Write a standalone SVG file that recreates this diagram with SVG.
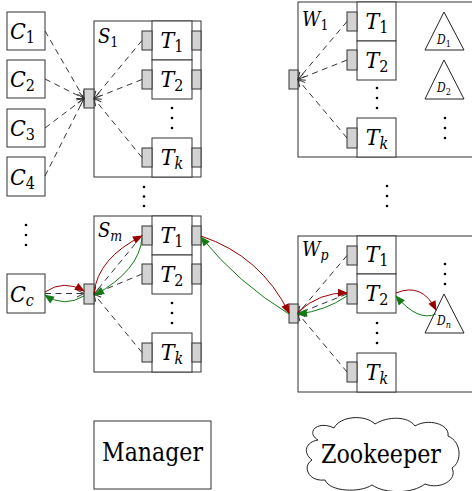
<svg xmlns="http://www.w3.org/2000/svg" width="472" height="491" viewBox="0 0 472 491">
<style>
.box{fill:#fff;stroke:#333;stroke-width:1}
.port{fill:#d3d3d3;stroke:#333;stroke-width:1}
text{font-family:'DejaVu Serif Condensed','DejaVu Serif',serif;fill:#000}
.t{font-style:italic;font-size:23px}
.s{font-style:italic;font-size:20px}
.d{font-style:italic;font-size:12px}
.n{font-style:normal}
.big{font-size:26px}
.dash{fill:none;stroke:#333;stroke-width:1;stroke-dasharray:6 4.5;marker-end:url(#open)}
.red{fill:none;stroke:#9b0000;stroke-width:1;marker-end:url(#ra)}
.grn{fill:none;stroke:#157a15;stroke-width:1;marker-end:url(#ga)}
.dot{fill:#000}
</style>
<defs>
<marker id="open" markerUnits="userSpaceOnUse" markerWidth="8" markerHeight="8" refX="7" refY="3.5" orient="auto" overflow="visible">
<path d="M0,0 L7,3.5 L0,7" fill="none" stroke="#333" stroke-width="1" stroke-dasharray="none"/>
</marker>
<marker id="ra" markerUnits="userSpaceOnUse" markerWidth="10" markerHeight="8" refX="9" refY="4" orient="auto" overflow="visible">
<path d="M0,0 L10,4 L0,8 z" fill="#9b0000"/>
</marker>
<marker id="ga" markerUnits="userSpaceOnUse" markerWidth="10" markerHeight="8" refX="9" refY="4" orient="auto" overflow="visible">
<path d="M0,0 L10,4 L0,8 z" fill="#157a15"/>
</marker>
</defs>
<rect width="472" height="491" fill="#fff"/>

<!-- Clients -->
<g id="C1"><rect class="box" x="7" y="12" width="38" height="38"/><text class="t" x="10" y="39">C<tspan class="n" font-size="16" dy="4">1</tspan></text></g>
<g id="C2"><rect class="box" x="7" y="60" width="38" height="38"/><text class="t" x="10" y="87">C<tspan class="n" font-size="16" dy="4">2</tspan></text></g>
<g id="C3"><rect class="box" x="7" y="109" width="38" height="38"/><text class="t" x="10" y="136">C<tspan class="n" font-size="16" dy="4">3</tspan></text></g>
<g id="C4"><rect class="box" x="7" y="157" width="38" height="39"/><text class="t" x="10" y="185">C<tspan class="n" font-size="16" dy="4">4</tspan></text></g>
<g id="Cdots"><circle class="dot" cx="26" cy="225" r="1.3"/><circle class="dot" cx="26" cy="235" r="1.3"/><circle class="dot" cx="26" cy="245" r="1.3"/></g>
<g id="Cc"><rect class="box" x="7" y="274" width="38" height="39"/><text class="t" x="10" y="302">C<tspan font-size="16" dy="4">c</tspan></text></g>

<!-- S1 -->
<g id="S1">
<rect class="box" x="94" y="21" width="107" height="156"/>
<text class="s" x="98" y="43">S<tspan class="n" font-size="14" dy="4">1</tspan></text>
<rect class="port" x="84" y="89" width="10" height="19"/>
<rect class="box" x="152" y="21" width="40" height="39"/>
<rect class="box" x="152" y="60" width="40" height="39"/>
<rect class="box" x="152" y="138" width="40" height="39"/>
<rect class="port" x="142" y="31" width="10" height="19"/><rect class="port" x="192" y="31" width="9" height="19"/>
<rect class="port" x="142" y="70" width="10" height="19"/><rect class="port" x="192" y="70" width="9" height="19"/>
<rect class="port" x="142" y="148" width="10" height="19"/><rect class="port" x="192" y="148" width="9" height="19"/>
<text class="t" x="172" y="48" text-anchor="middle">T<tspan class="n" font-size="16" dy="4">1</tspan></text>
<text class="t" x="172" y="87" text-anchor="middle">T<tspan class="n" font-size="16" dy="4">2</tspan></text>
<text class="t" x="172" y="165" text-anchor="middle">T<tspan font-size="16" dy="4">k</tspan></text>
<circle class="dot" cx="172" cy="108" r="1.3"/><circle class="dot" cx="172" cy="118" r="1.3"/><circle class="dot" cx="172" cy="128" r="1.3"/>
</g>
<g id="Sdots"><circle class="dot" cx="144" cy="187" r="1.3"/><circle class="dot" cx="144" cy="196.5" r="1.3"/><circle class="dot" cx="144" cy="206" r="1.3"/></g>

<!-- Sm -->
<g id="Sm">
<rect class="box" x="94" y="216" width="107" height="156"/>
<text class="s" x="98" y="237">S<tspan font-size="14" dy="4">m</tspan></text>
<rect class="port" x="84" y="284" width="10" height="20"/>
<rect class="box" x="152" y="216" width="40" height="39"/>
<rect class="box" x="152" y="255" width="40" height="39"/>
<rect class="box" x="152" y="333" width="40" height="39"/>
<rect class="port" x="142" y="226" width="10" height="19"/><rect class="port" x="192" y="226" width="9" height="19"/>
<rect class="port" x="142" y="264" width="10" height="20"/><rect class="port" x="192" y="264" width="9" height="20"/>
<rect class="port" x="142" y="343" width="10" height="19"/><rect class="port" x="192" y="343" width="9" height="19"/>
<text class="t" x="172" y="243" text-anchor="middle">T<tspan class="n" font-size="16" dy="4">1</tspan></text>
<text class="t" x="172" y="282" text-anchor="middle">T<tspan class="n" font-size="16" dy="4">2</tspan></text>
<text class="t" x="172" y="360" text-anchor="middle">T<tspan font-size="16" dy="4">k</tspan></text>
<circle class="dot" cx="172" cy="303" r="1.3"/><circle class="dot" cx="172" cy="313" r="1.3"/><circle class="dot" cx="172" cy="323" r="1.3"/>
</g>

<!-- W1 -->
<g id="W1">
<rect class="box" x="298" y="2" width="180" height="155"/>
<text class="s" x="302" y="26">W<tspan class="n" font-size="14" dy="4">1</tspan></text>
<rect class="port" x="289" y="70" width="9" height="19"/>
<rect class="box" x="357" y="2" width="39" height="39"/>
<rect class="box" x="357" y="41" width="39" height="39"/>
<rect class="box" x="357" y="118" width="39" height="39"/>
<rect class="port" x="347" y="12" width="10" height="19"/>
<rect class="port" x="347" y="50" width="10" height="20"/>
<rect class="port" x="347" y="128" width="10" height="20"/>
<text class="t" x="377" y="29" text-anchor="middle">T<tspan class="n" font-size="16" dy="4">1</tspan></text>
<text class="t" x="377" y="68" text-anchor="middle">T<tspan class="n" font-size="16" dy="4">2</tspan></text>
<text class="t" x="377" y="145" text-anchor="middle">T<tspan font-size="16" dy="4">k</tspan></text>
<circle class="dot" cx="377" cy="88" r="1.3"/><circle class="dot" cx="377" cy="98" r="1.3"/><circle class="dot" cx="377" cy="108" r="1.3"/>
<path d="M444,12 L464,50 L425,50 Z" fill="#fff" stroke="#222" stroke-width="1"/>
<text class="d" x="444" y="44" text-anchor="middle">D<tspan class="n" font-size="9" dy="3">1</tspan></text>
<path d="M444,60 L464,99 L425,99 Z" fill="#fff" stroke="#222" stroke-width="1"/>
<text class="d" x="444" y="92" text-anchor="middle">D<tspan class="n" font-size="9" dy="3">2</tspan></text>
<circle class="dot" cx="445" cy="118" r="1.3"/><circle class="dot" cx="445" cy="128" r="1.3"/><circle class="dot" cx="445" cy="138" r="1.3"/>
</g>
<g id="Wdots"><circle class="dot" cx="387" cy="186" r="1.3"/><circle class="dot" cx="387" cy="196" r="1.3"/><circle class="dot" cx="387" cy="206" r="1.3"/></g>

<!-- Wp -->
<g id="Wp">
<rect class="box" x="298" y="236" width="180" height="156"/>
<text class="s" x="302" y="256">W<tspan font-size="14" dy="4">p</tspan></text>
<rect class="port" x="289" y="304" width="9" height="19"/>
<rect class="box" x="357" y="236" width="39" height="38"/>
<rect class="box" x="357" y="274" width="39" height="39"/>
<rect class="box" x="357" y="353" width="39" height="39"/>
<rect class="port" x="347" y="246" width="10" height="19"/>
<rect class="port" x="347" y="284" width="10" height="20"/>
<rect class="port" x="347" y="362" width="10" height="20"/>
<text class="t" x="377" y="262" text-anchor="middle">T<tspan class="n" font-size="16" dy="4">1</tspan></text>
<text class="t" x="377" y="301" text-anchor="middle">T<tspan class="n" font-size="16" dy="4">2</tspan></text>
<text class="t" x="377" y="380" text-anchor="middle">T<tspan font-size="16" dy="4">k</tspan></text>
<circle class="dot" cx="377" cy="323" r="1.3"/><circle class="dot" cx="377" cy="333" r="1.3"/><circle class="dot" cx="377" cy="343" r="1.3"/>
<circle class="dot" cx="445" cy="264" r="1.3"/><circle class="dot" cx="445" cy="274" r="1.3"/><circle class="dot" cx="445" cy="284" r="1.3"/>
<path d="M444,294 L464,333 L425,333 Z" fill="#fff" stroke="#222" stroke-width="1"/>
<text class="d" x="444" y="325" text-anchor="middle">D<tspan font-size="9" dy="3">n</tspan></text>
</g>

<!-- Manager -->
<g id="Manager">
<rect class="box" x="94" y="421" width="117" height="68"/>
<text class="big" x="102" y="461" textLength="101" lengthAdjust="spacingAndGlyphs">Manager</text>
</g>

<!-- Zookeeper -->
<g id="Zookeeper">
<path d="M318,440 C305,432 318,420 334,428 C340,416 365,414 375,424 C388,416 408,416 415,426 C428,418 450,424 448,436 C462,442 462,462 452,468 C458,480 440,490 425,484 C412,494 385,494 372,485 C360,493 330,492 325,480 C308,482 302,466 312,460 C302,452 306,442 318,440 Z" fill="#fff" stroke="#222" stroke-width="1"/>
<text class="big" x="321" y="463" textLength="120" lengthAdjust="spacingAndGlyphs">Zookeeper</text>
</g>

<!-- Connectors -->
<g id="connectors">
<path class="dash" d="M45,31 L84,98.5"/>
<path class="dash" d="M45,79 L84,98.5"/>
<path class="dash" d="M45,128 L84,98.5"/>
<path class="dash" d="M45,176 L84,98.5"/>
<path class="dash" d="M142,40.5 L94,98.5"/>
<path class="dash" d="M142,79.5 L94,98.5"/>
<path class="dash" d="M142,157.5 L94,98.5"/>

<path class="dash" d="M45,293.5 L84,293.5"/>
<path class="dash" d="M142,235.5 L94,294"/>
<path class="dash" d="M142,274 L94,294"/>
<path class="dash" d="M142,352.5 L94,294"/>

<path class="dash" d="M347,21.5 L298,79.5"/>
<path class="dash" d="M347,60 L298,79.5"/>
<path class="dash" d="M347,138 L298,79.5"/>

<path class="dash" d="M347,255.5 L298,313.5"/>
<path class="dash" d="M347,294 L298,313.5"/>
<path class="dash" d="M347,372 L298,313.5"/>

<path class="red" d="M45,292 Q64,279 84,291"/>
<path class="grn" d="M84,296 Q64,308 45,295"/>
<path class="red" d="M94,293 Q98,258 142,236"/>
<path class="grn" d="M142,238 Q139.5,270 95,295"/>
<path class="red" d="M201,236 Q261,256 289,313"/>
<path class="grn" d="M289,314 Q238,283 201,237"/>
<path class="red" d="M298,312 Q320,292 347,293"/>
<path class="grn" d="M347,296 Q325,311 298,314"/>
<path class="red" d="M396,293 Q422,282 436,310"/>
<path class="grn" d="M436,314 Q418,322 396,296"/>
</g>
</svg>
